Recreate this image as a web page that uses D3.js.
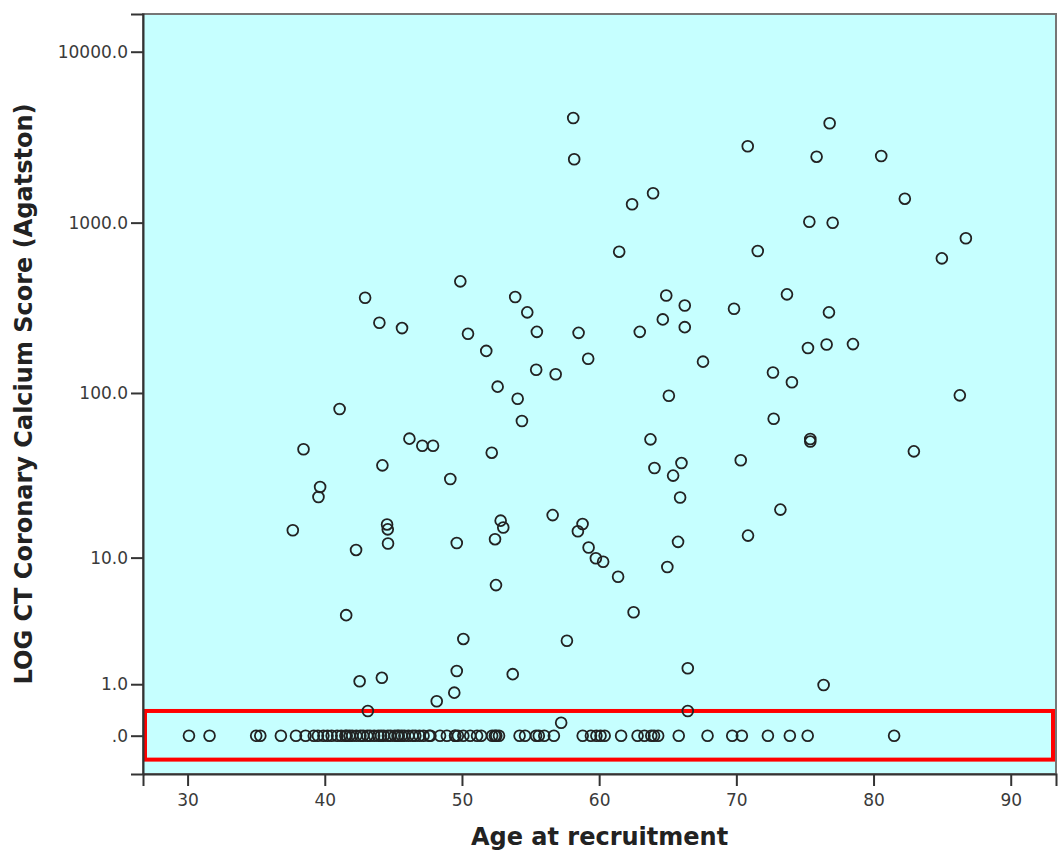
<!DOCTYPE html>
<html>
<head>
<meta charset="utf-8">
<script src="https://cdn.jsdelivr.net/npm/d3@7"></script>
<style>
  html, body { margin: 0; padding: 0; background: #ffffff; }
  svg { display: block; }
  .tick text { font-family: "DejaVu Sans", sans-serif; font-size: 17px; fill: #3a3a3a; }
  .axis-title { font-family: "DejaVu Sans", sans-serif; font-weight: bold; font-size: 24px; fill: #222; }
</style>
</head>
<body>
<script>
// Age at recruitment and coronary calcium score (Agatston) for participants with a positive score
const positiveAges = [
  58.11, 58.18, 70.83, 76.80, 75.85, 80.56, 63.93, 62.40, 82.28, 75.32,
  77.02, 71.56, 61.46, 84.98, 86.73, 49.88, 42.94, 43.98, 45.63, 50.44,
  51.77, 53.88, 54.76, 55.46, 58.50, 62.96, 64.89, 64.64, 66.24, 66.24,
  69.83, 73.69, 76.75, 75.22, 76.58, 78.50, 67.57, 59.20, 55.41, 56.83,
  52.60, 54.06, 54.37, 65.08, 72.67, 74.05, 86.29, 72.72, 41.08, 38.45,
  46.17, 47.11, 47.89, 44.20, 52.17, 63.74, 75.39, 75.39, 64.03, 66.00,
  65.39, 70.32, 82.94, 39.66, 39.54, 49.15, 65.90, 37.67, 44.54, 44.59,
  44.61, 42.28, 49.62, 52.82, 53.01, 52.41, 56.61, 58.79, 58.45, 59.23,
  59.76, 60.29, 61.38, 64.97, 65.75, 70.85, 73.21, 52.48, 41.56, 62.51,
  50.10, 57.65, 42.54, 44.16, 49.62, 53.70, 66.46, 76.36, 48.16, 49.44,
  43.14, 66.46, 57.23
];
const positiveScores = [
  4095, 2349, 2798, 3814, 2432, 2455, 1485, 1281, 1381, 1012,
  999, 682, 676, 618, 810, 453, 363, 259, 241, 223,
  177, 367, 298, 229, 226, 229, 374, 271, 327, 244,
  313, 380, 298, 184, 193, 194, 153, 159, 137, 129,
  109, 92.5, 68.2, 96.3, 132, 115.6, 96.8, 70.4, 80.4, 46.3,
  53.6, 48.6, 48.6, 37.1, 44.2, 53.1, 53.3, 51.5, 35.8, 38.3,
  32.2, 39.8, 45.0, 27.5, 23.9, 30.7, 23.7, 14.9, 16.2, 15.1,
  12.3, 11.2, 12.4, 17.1, 15.5, 13.1, 18.5, 16.3, 14.7, 11.6,
  9.9, 9.4, 7.5, 8.7, 12.6, 13.8, 20.0, 6.6, 4.07, 4.27,
  2.68, 2.59, 1.08, 1.18, 1.39, 1.29, 1.48, 0.98, 0.59, 0.785,
  0.394, 0.394, 0.191
];
// Participants with a score of zero
const zeroAges = [
  30.1, 31.6, 35.0, 35.3, 36.8, 37.9, 38.6, 39.2, 39.5, 39.9,
  40.2, 40.5, 40.9, 41.2, 41.5, 41.6, 41.8, 42.0, 42.3, 42.6,
  42.8, 43.1, 43.3, 43.6, 43.9, 44.1, 44.3, 44.6, 44.8, 45.1,
  45.3, 45.4, 45.6, 45.8, 46.1, 46.4, 46.6, 46.9, 47.2, 47.6,
  47.7, 48.4, 48.9, 49.5, 49.5, 49.7, 50.1, 50.6, 51.1, 51.4,
  52.2, 52.4, 52.5, 52.7, 54.2, 54.6, 55.4, 55.6, 56.0, 56.7,
  58.8, 59.4, 59.8, 60.1, 60.4, 61.6, 62.8, 63.3, 63.8, 64.0,
  64.3, 65.8, 67.9, 69.7, 70.4, 72.3, 73.9, 75.2, 81.5
];
const xTickValues = [30, 40, 50, 60, 70, 80, 90];
const yTickValues = [0, 1, 10, 100, 1000, 10000];
const yTickLabels = [".0", "1.0", "10.0", "100.0", "1000.0", "10000.0"];

const points = positiveAges.map((a, i) => ({ age: a, score: positiveScores[i] }))
  .concat(zeroAges.map(a => ({ age: a, score: 0 })));

const W = 1058, H = 853;
const plot = { left: 143, top: 14, right: 1056, bottom: 774 };

const svg = d3.select("body").append("svg").attr("width", W).attr("height", H);

const x = d3.scaleLinear().domain([26.75, 93.3]).range([plot.left, plot.right]);
// log(1 + score) scale
const y = d3.scaleSymlog().constant(1).domain([-0.675, 16618]).range([plot.bottom, plot.top]);

// plot background
svg.append("rect")
  .attr("x", plot.left).attr("y", plot.top)
  .attr("width", plot.right - plot.left).attr("height", plot.bottom - plot.top)
  .attr("fill", "#c6ffff")
  .attr("stroke", "#767676").attr("stroke-width", 2);

// highlight band around the zero scores
const bandLo = -0.38, bandHi = 0.395;
svg.append("rect")
  .attr("x", x.range()[0] + 2)
  .attr("y", y(bandHi))
  .attr("width", x.range()[1] - x.range()[0] - 5)
  .attr("height", y(bandLo) - y(bandHi))
  .attr("fill", "none")
  .attr("stroke", "#ff0000")
  .attr("stroke-width", 4);

// points
svg.append("g").selectAll("circle")
  .data(points)
  .join("circle")
  .attr("cx", d => x(d.age))
  .attr("cy", d => y(d.score))
  .attr("r", 5.4)
  .attr("fill", "none")
  .attr("stroke", "#222")
  .attr("stroke-width", 1.8);

// axes
const xAxis = svg.append("g")
  .attr("transform", `translate(0,${plot.bottom})`)
  .call(d3.axisBottom(x).tickValues(xTickValues).tickSize(12).tickPadding(8).tickFormat(d3.format("d")));
const yAxis = svg.append("g")
  .attr("transform", `translate(${plot.left},0)`)
  .call(d3.axisLeft(y).tickValues(yTickValues).tickSize(12).tickPadding(3)
    .tickFormat((d, i) => yTickLabels[i]));

[xAxis, yAxis].forEach(g => {
  g.select(".domain").attr("stroke", "#333").attr("stroke-width", 2);
  g.selectAll(".tick line").attr("stroke", "#333").attr("stroke-width", 2);
});

// axis titles
svg.append("text")
  .attr("class", "axis-title")
  .attr("x", (plot.left + plot.right) / 2)
  .attr("y", 845)
  .attr("text-anchor", "middle")
  .text("Age at recruitment");

svg.append("text")
  .attr("class", "axis-title")
  .attr("transform", `translate(32,${(plot.top + plot.bottom) / 2}) rotate(-90)`)
  .attr("text-anchor", "middle")
  .text("LOG CT Coronary Calcium Score (Agatston)");
</script>
</body>
</html>
